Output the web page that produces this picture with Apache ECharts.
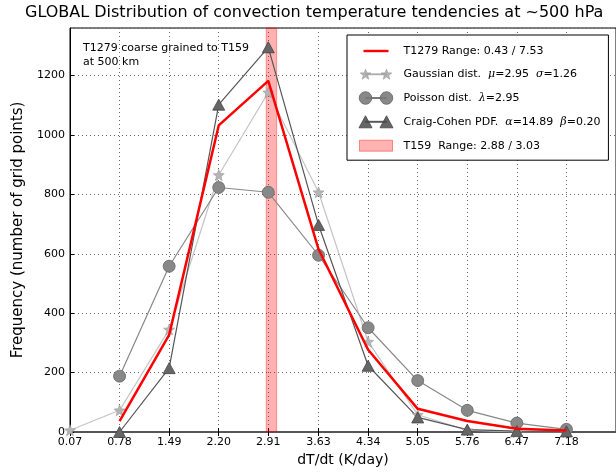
<!DOCTYPE html>
<html>
<head>
<meta charset="utf-8">
<script src="https://cdn.jsdelivr.net/npm/echarts@6/dist/echarts.min.js"></script>
<style>html,body{margin:0;padding:0;background:#fff}#c{width:616px;height:472px}</style>
</head>
<body>
<div id="c"></div>
<script>
// ---- data ----
const xTicks = [0.07, 0.78, 1.49, 2.20, 2.91, 3.63, 4.34, 5.05, 5.76, 6.47, 7.18];
const xMax = 7.89;
const yMax = 1360;
const t1279 = [null, 37, 327, 1032, 1182, 615, 277, 78, 37, 11, 5];
const gaussian = [6, 73, 345, 865, 1143, 807, 304, 58, 6, 0, 0];
const poisson = [null, 188, 558, 823, 807, 595, 351, 173, 73, 30, 9];
const craigCohen = [null, 0, 215, 1102, 1295, 697, 223, 49, 8, 3, 2];
const t159Band = [2.88, 3.03];

const titleText = 'GLOBAL Distribution of convection temperature tendencies at ~500 hPa';
const noteText = 'T1279 coarse grained to T159\nat 500 km';
const legendLabels = {
  'T1279': 'T1279 Range: 0.43 / 7.53',
  'Gaussian': 'Gaussian dist.  {i|μ}=2.95  {i|σ}=1.26',
  'Poisson': 'Poisson dist.  {i|λ}=2.95',
  'Craig-Cohen': 'Craig-Cohen PDF.  {i|α}=14.89  {i|β}=0.20',
  'T159': 'T159  Range: 2.88 / 3.03'
};

// ---- helpers ----
function pairs(vals) {
  const out = [];
  vals.forEach((v, i) => { if (v !== null) out.push([xTicks[i], v]); });
  return out;
}
function starPath(cx, cy, R, r) {
  let d = '';
  for (let k = 0; k < 10; k++) {
    const a = -Math.PI / 2 + k * Math.PI / 5;
    const rad = k % 2 ? r : R;
    d += (k ? 'L' : 'M') + (cx + rad * Math.cos(a)).toFixed(2) + ' ' + (cy + rad * Math.sin(a)).toFixed(2) + ' ';
  }
  return d + 'Z ';
}
function circlePath(cx, cy, r) {
  return 'M' + (cx - r) + ' ' + cy + ' A' + r + ' ' + r + ' 0 1 0 ' + (cx + r) + ' ' + cy +
         ' A' + r + ' ' + r + ' 0 1 0 ' + (cx - r) + ' ' + cy + ' Z ';
}
function triPath(cx, cy, w, h) {
  return 'M' + (cx - w / 2) + ' ' + (cy + h / 2) + ' L' + cx + ' ' + (cy - h / 2) + ' L' + (cx + w / 2) + ' ' + (cy + h / 2) + ' Z ';
}
const BOX = 'M0 0 M46 14 ';
const LINK = 'M13 6.5 H34 V7.5 H13 Z ';
const iconRed = 'path://' + BOX + 'M11 5.8 H36 V8.2 H11 Z';
const iconStar = 'path://' + BOX + LINK + starPath(13, 7.4, 5.6, 2.3) + starPath(34, 7.4, 5.6, 2.3);
const iconCircle = 'path://' + BOX + LINK + circlePath(13, 7, 6.3) + circlePath(34, 7, 6.3);
const iconTri = 'path://' + BOX + LINK + triPath(13, 7, 13, 12) + triPath(34, 7, 13, 12);
const iconRect = 'path://' + BOX + 'M7 1.5 H40 V12.5 H7 Z';
const starSymbol = 'path://' + starPath(0, 0, 10, 4.2);

const FONT = 'DejaVu Sans';
const GRID_LINE = {color: '#666', width: 1, type: [1, 3]};
const chart = echarts.init(document.getElementById('c'), null, {renderer: 'canvas'});
chart.setOption({
  animation: false,
  backgroundColor: '#fff',
  textStyle: {fontFamily: FONT},
  title: [
    {text: titleText, left: 25, top: 5, padding: 0,
     textStyle: {fontFamily: FONT, fontSize: 16, fontWeight: 'normal', color: '#000'}},
    {text: noteText, left: 83, top: 41, padding: 0,
     textStyle: {fontFamily: FONT, fontSize: 11, fontWeight: 'normal', color: '#000', lineHeight: 14}}
  ],
  grid: {left: 70, right: -1, top: 28, bottom: 36, show: true, borderColor: '#000', borderWidth: 1, backgroundColor: '#fff'},
  legend: {
    orient: 'vertical', left: 347, top: 35, padding: [9, 8, 7, 5],
    itemWidth: 46, itemHeight: 14, itemGap: 9,
    backgroundColor: '#fff', borderColor: '#000', borderWidth: 1, borderRadius: 0,
    selectedMode: false,
    textStyle: {fontFamily: FONT, fontSize: 11, color: '#000',
      rich: {i: {fontFamily: 'DejaVu Serif', fontStyle: 'italic', fontSize: 11, color: '#000'}}},
    formatter: name => legendLabels[name],
    data: [
      {name: 'T1279', icon: iconRed, itemStyle: {color: '#ff0000', borderWidth: 0}},
      {name: 'Gaussian', icon: iconStar, itemStyle: {color: '#b5b5b5', borderColor: '#999', borderWidth: 0.6}},
      {name: 'Poisson', icon: iconCircle, itemStyle: {color: '#888', borderColor: '#666', borderWidth: 0.8}},
      {name: 'Craig-Cohen', icon: iconTri, itemStyle: {color: '#666', borderColor: '#444', borderWidth: 0.8}},
      {name: 'T159', icon: iconRect, itemStyle: {color: 'rgba(255,0,0,0.3)', borderColor: 'rgba(255,0,0,0.4)', borderWidth: 1}}
    ]
  },
  xAxis: [
    {type: 'value', min: xTicks[0], max: xMax, position: 'bottom',
     name: 'dT/dt (K/day)', nameLocation: 'middle', nameGap: 21,
     nameTextStyle: {fontFamily: FONT, fontSize: 14, color: '#000'},
     axisLine: {show: true, onZero: false, lineStyle: {color: '#555', width: 2}},
     axisTick: {show: true, inside: true, length: 4, customValues: xTicks, lineStyle: {color: '#000'}},
     axisLabel: {customValues: xTicks, margin: 5, fontFamily: FONT, fontSize: 11, color: '#000',
                 formatter: v => v.toFixed(2)},
     splitLine: {show: true, lineStyle: GRID_LINE}},
    {type: 'value', min: xTicks[0], max: xMax, position: 'top',
     axisLine: {show: false},
     axisTick: {show: true, inside: true, length: 4, customValues: xTicks, lineStyle: {color: '#000'}},
     axisLabel: {show: false}, splitLine: {show: false}}
  ],
  yAxis: {
    type: 'value', min: 0, max: yMax, interval: 200,
    name: 'Frequency (number of grid points)', nameLocation: 'middle', nameGap: 40,
    nameTextStyle: {fontFamily: FONT, fontSize: 15, color: '#000'},
    axisLine: {show: true, lineStyle: {color: '#000', width: 1}},
    axisTick: {show: true, inside: true, length: 4, lineStyle: {color: '#000'}},
    axisLabel: {margin: 5, fontFamily: FONT, fontSize: 11, color: '#000', showMaxLabel: false,
                formatter: v => String(v)},
    splitLine: {show: true, lineStyle: GRID_LINE}
  },
  series: [
    {name: 'T1279', type: 'line', z: 5, data: pairs(t1279), symbol: 'none',
     itemStyle: {color: '#ff0000'}, lineStyle: {color: '#ff0000', width: 2.5}, emphasis: {disabled: true}},
    {name: 'Gaussian', type: 'line', z: 3, data: pairs(gaussian), symbol: starSymbol, symbolSize: 11,
     itemStyle: {color: '#b5b5b5', borderColor: '#999', borderWidth: 0.6},
     lineStyle: {color: '#c4c4c4', width: 1.2}, emphasis: {disabled: true}},
    {name: 'Poisson', type: 'line', z: 3, data: pairs(poisson), symbol: 'circle', symbolSize: 12,
     itemStyle: {color: '#888', borderColor: '#666', borderWidth: 0.8},
     lineStyle: {color: '#888', width: 1.2}, emphasis: {disabled: true}},
    {name: 'Craig-Cohen', type: 'line', z: 3, data: pairs(craigCohen), symbol: 'triangle', symbolSize: [12, 11],
     itemStyle: {color: '#666', borderColor: '#444', borderWidth: 0.8},
     lineStyle: {color: '#555', width: 1.2}, emphasis: {disabled: true}},
    {name: 'T159', type: 'line', z: 1, data: [], symbol: 'none',
     itemStyle: {color: 'rgba(255,0,0,0.3)'}, lineStyle: {color: 'rgba(255,0,0,0.3)'},
     markArea: {silent: true,
       itemStyle: {color: 'rgba(255,0,0,0.3)', borderColor: 'rgba(255,0,0,0.35)', borderWidth: 1},
       data: [[{xAxis: t159Band[0]}, {xAxis: t159Band[1]}]]}}
  ]
});
</script>
</body>
</html>
